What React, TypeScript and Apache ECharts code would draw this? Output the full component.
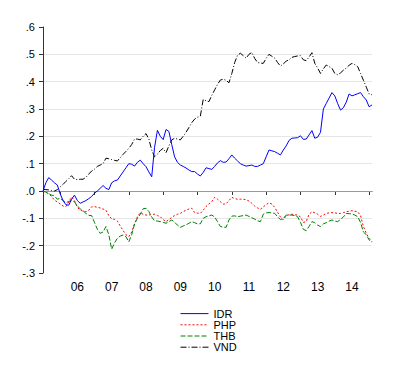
import React, { useEffect, useRef } from "react";
import * as echarts from "echarts";

// Monthly observations, Jul 2005 .. Feb 2015
const START_YEAR = 2005;
const START_MONTH = 7;
const N_MONTHS = 116;
const months: string[] = [];
for (let i = 0; i < N_MONTHS; i++) {
  const m0 = START_MONTH - 1 + i;
  const y = START_YEAR + Math.floor(m0 / 12);
  const m = (m0 % 12) + 1;
  months.push(`${y}-${m < 10 ? "0" + m : m}`);
}

const IDR = [
  0.0, 0.03, 0.049, 0.04, 0.03, 0.022, -0.01, -0.035, -0.05, -0.052,
  -0.03, -0.015, -0.035, -0.045, -0.04, -0.035, -0.028, -0.02, -0.008, 0.0,
  0.01, 0.02, 0.01, 0.005, 0.03, 0.037, 0.04, 0.055, 0.07, 0.085,
  0.1, 0.098, 0.091, 0.105, 0.113, 0.1, 0.089, 0.07, 0.052, 0.16,
  0.222, 0.2, 0.188, 0.225, 0.218, 0.17, 0.125, 0.105, 0.095, 0.09,
  0.084, 0.077, 0.071, 0.071, 0.062, 0.055, 0.068, 0.085, 0.082, 0.079,
  0.09, 0.103, 0.111, 0.105, 0.106, 0.118, 0.132, 0.12, 0.11, 0.1,
  0.095, 0.091, 0.093, 0.095, 0.09, 0.09, 0.095, 0.1, 0.125, 0.15,
  0.147, 0.144, 0.138, 0.132, 0.15, 0.165, 0.185, 0.193, 0.194, 0.195,
  0.202, 0.189, 0.19, 0.205, 0.221, 0.193, 0.197, 0.215, 0.3, 0.32,
  0.34, 0.36, 0.348, 0.32, 0.296, 0.305, 0.325, 0.355, 0.348, 0.352,
  0.356, 0.36, 0.345, 0.333, 0.308, 0.315,
];

const PHP = [
  0.0, -0.005, -0.01, -0.02, -0.033, -0.04, -0.047, -0.055, -0.057, -0.04,
  -0.022, -0.035, -0.06, -0.07, -0.074, -0.076, -0.07, -0.058, -0.057, -0.06,
  -0.062, -0.066, -0.07, -0.09, -0.102, -0.104, -0.11, -0.128, -0.145, -0.16,
  -0.167, -0.15, -0.12, -0.094, -0.08, -0.085, -0.088, -0.088, -0.086, -0.085,
  -0.09, -0.094, -0.105, -0.112, -0.105, -0.096, -0.09, -0.085, -0.082, -0.076,
  -0.07, -0.066, -0.063, -0.079, -0.081, -0.082, -0.07, -0.057, -0.047, -0.039,
  -0.023, -0.03, -0.039, -0.048, -0.047, -0.035, -0.023, -0.028, -0.03, -0.03,
  -0.03, -0.032, -0.037, -0.045, -0.055, -0.062, -0.067, -0.058, -0.05, -0.043,
  -0.048, -0.06, -0.078, -0.095, -0.106, -0.09, -0.087, -0.085, -0.087, -0.088,
  -0.095, -0.115, -0.112, -0.085, -0.076, -0.08, -0.085, -0.093, -0.088, -0.082,
  -0.08, -0.079, -0.08, -0.082, -0.082, -0.079, -0.076, -0.074, -0.072, -0.074,
  -0.076, -0.09, -0.13, -0.155, -0.173, -0.185,
];

const THB = [
  0.0, -0.004, -0.01, -0.015, -0.018, -0.03, -0.027, -0.035, -0.043, -0.038,
  -0.035, -0.039, -0.055, -0.065, -0.072, -0.082, -0.089, -0.09, -0.115, -0.14,
  -0.155, -0.15, -0.13, -0.16, -0.213, -0.19, -0.173, -0.165, -0.161, -0.167,
  -0.186, -0.16, -0.12, -0.1, -0.085, -0.065, -0.063, -0.075, -0.095, -0.109,
  -0.11, -0.112, -0.115, -0.118, -0.112, -0.106, -0.114, -0.125, -0.133, -0.128,
  -0.124, -0.118, -0.112, -0.116, -0.12, -0.12, -0.1, -0.094, -0.091, -0.088,
  -0.095, -0.112, -0.13, -0.132, -0.133, -0.106, -0.092, -0.091, -0.094, -0.092,
  -0.09, -0.088, -0.093, -0.098, -0.103, -0.109, -0.112, -0.085, -0.08, -0.079,
  -0.08, -0.082, -0.094, -0.105, -0.1, -0.088, -0.088, -0.088, -0.09, -0.094,
  -0.115, -0.14, -0.145, -0.13, -0.112, -0.116, -0.125, -0.13, -0.12, -0.116,
  -0.11, -0.106, -0.11, -0.112, -0.104, -0.095, -0.082, -0.083, -0.084, -0.088,
  -0.094, -0.115, -0.15, -0.16, -0.179, -0.188,
];

const VND = [
  0.006, 0.005, 0.004, 0.002, 0.0, 0.005, 0.015, 0.024, 0.035, 0.045,
  0.056, 0.043, 0.042, 0.043, 0.043, 0.05, 0.062, 0.073, 0.08, 0.09,
  0.095, 0.1, 0.12, 0.118, 0.115, 0.112, 0.11, 0.122, 0.134, 0.145,
  0.156, 0.17, 0.19, 0.19, 0.187, 0.2, 0.21, 0.19, 0.15, 0.125,
  0.135, 0.148, 0.156, 0.14, 0.165, 0.187, 0.193, 0.19, 0.187, 0.2,
  0.215, 0.232, 0.25, 0.263, 0.27, 0.274, 0.335, 0.33, 0.327, 0.35,
  0.37, 0.39, 0.406, 0.409, 0.405, 0.396, 0.43, 0.47, 0.497, 0.504,
  0.495, 0.486, 0.5, 0.507, 0.485, 0.47, 0.468, 0.467, 0.485, 0.5,
  0.493, 0.486, 0.47, 0.457, 0.465, 0.475, 0.48, 0.489, 0.492, 0.494,
  0.495, 0.48, 0.477, 0.49, 0.506, 0.467, 0.45, 0.43, 0.447, 0.461,
  0.455, 0.449, 0.43, 0.425, 0.432, 0.442, 0.45, 0.46, 0.467, 0.462,
  0.455, 0.43, 0.405, 0.38, 0.355, 0.352,
];

const Y_MIN = -0.3;
const Y_MAX = 0.6;
const Y_STEP = 0.1;

function fmtY(v: number): string {
  const r = Math.round(v * 10) / 10;
  if (Math.abs(r) < 1e-9) return ".0";
  const s = Math.abs(r).toFixed(1).replace(/^0/, "");
  return (r < 0 ? "-" : "") + s;
}

export default function App() {
  const ref = useRef<HTMLDivElement>(null);
  useEffect(() => {
    if (!ref.current) return;
    const chart = echarts.init(ref.current, undefined, { renderer: "svg" });
    const font = "Liberation Sans, Arial, sans-serif";
    chart.setOption({
      animation: false,
      backgroundColor: "#ffffff",
      grid: { left: 43, right: 28, top: 27, bottom: 116, containLabel: false },
      legend: {
        orient: "vertical",
        left: 180,
        top: 308,
        padding: 0,
        itemWidth: 28,
        itemHeight: 14,
        itemGap: 0,
        itemStyle: { opacity: 0, borderWidth: 0 },
        lineStyle: { width: 1 },
        textStyle: { fontFamily: font, fontSize: 11, color: "#000" },
        data: ["IDR", "PHP", "THB", "VND"],
      },
      xAxis: {
        type: "category",
        data: months,
        boundaryGap: false,
        axisLine: { show: true, lineStyle: { color: "#333", width: 1 } },
        axisTick: {
          show: true,
          length: 4,
          inside: false,
          interval: (idx: number) => (idx - 6) % 12 === 0 && idx >= 6,
          lineStyle: { color: "#333" },
        },
        axisLabel: {
          interval: (idx: number) => idx % 12 === 0 && idx > 0,
          formatter: (v: string) => v.slice(2, 4),
          fontFamily: font,
          fontSize: 12,
          color: "#000",
          margin: 8,
        },
        splitLine: { show: false },
      },
      yAxis: {
        type: "value",
        min: Y_MIN,
        max: Y_MAX,
        interval: Y_STEP,
        axisLine: { show: true, lineStyle: { color: "#333", width: 1 } },
        axisTick: { show: true, length: 4, inside: false, lineStyle: { color: "#333" } },
        axisLabel: {
          formatter: fmtY,
          fontFamily: font,
          fontSize: 11,
          color: "#000",
          margin: 8,
        },
        splitLine: {
          show: true,
          showMinLine: false,
          showMaxLine: false,
          lineStyle: { color: "#e6e6e6", width: 1 },
        },
      },
      series: [
        {
          name: "IDR",
          type: "line",
          data: IDR,
          symbol: "none",
          showSymbol: false,
          lineStyle: { color: "#0000ff", width: 1, type: "solid" },
          itemStyle: { color: "#0000ff" },
          z: 4,
          markLine: {
            silent: true,
            symbol: "none",
            label: { show: false },
            lineStyle: { color: "#999999", type: "solid", width: 1 },
            data: [{ yAxis: 0 }],
            z: 1,
          },
        },
        {
          name: "PHP",
          type: "line",
          data: PHP,
          symbol: "none",
          showSymbol: false,
          lineStyle: { color: "#ff0000", width: 1, type: [2, 2] },
          itemStyle: { color: "#ff0000" },
          z: 3,
        },
        {
          name: "THB",
          type: "line",
          data: THB,
          symbol: "none",
          showSymbol: false,
          lineStyle: { color: "#008000", width: 1, type: [5, 2] },
          itemStyle: { color: "#008000" },
          z: 3,
        },
        {
          name: "VND",
          type: "line",
          data: VND,
          symbol: "none",
          showSymbol: false,
          lineStyle: { color: "#000000", width: 1, type: [6, 2, 1, 2] },
          itemStyle: { color: "#000000" },
          z: 3,
        },
      ],
    });
    return () => chart.dispose();
  }, []);
  return (
    <div
      ref={ref}
      style={{ position: "fixed", left: 0, top: 0, width: 400, height: 389, background: "#fff" }}
    />
  );
}
